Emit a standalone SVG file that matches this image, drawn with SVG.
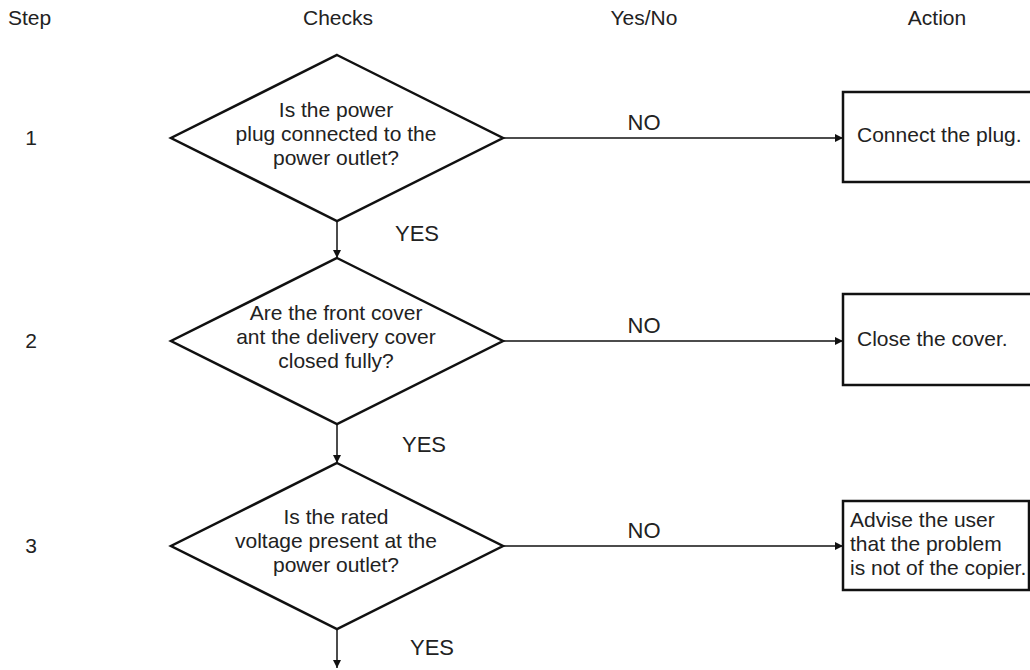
<svg xmlns="http://www.w3.org/2000/svg" width="1030" height="670" viewBox="0 0 1030 670">
<defs>
<style>
text{font-family:"Liberation Sans",Arial,sans-serif;font-size:21px;fill:#222}
.c{text-anchor:middle}
.yn{font-size:22px}
.shape{fill:#fff;stroke:#111;stroke-width:2.5}
.conn{fill:none;stroke:#111;stroke-width:1.5}
</style>
<marker id="ah" viewBox="0 0 10 10" refX="10" refY="5" markerWidth="10" markerHeight="8" markerUnits="userSpaceOnUse" orient="auto">
<path d="M0,0 L10,5 L0,10 Z" fill="#111"/>
</marker>
</defs>
<rect width="1030" height="670" fill="#fff"/>
<g id="headers">
<text x="8" y="25">Step</text>
<text x="338" y="25" class="c">Checks</text>
<text x="644" y="25" class="c">Yes/No</text>
<text x="937" y="25" class="c">Action</text>
</g>
<g id="steps">
<text x="31" y="145" class="c">1</text>
<text x="31" y="348" class="c">2</text>
<text x="31" y="553" class="c">3</text>
</g>
<g id="connectors">
<line class="conn" x1="503" y1="138" x2="843" y2="138" marker-end="url(#ah)"/>
<line class="conn" x1="503" y1="341" x2="843" y2="341" marker-end="url(#ah)"/>
<line class="conn" x1="503" y1="546" x2="843" y2="546" marker-end="url(#ah)"/>
<line class="conn" x1="337" y1="221" x2="337" y2="258" marker-end="url(#ah)"/>
<line class="conn" x1="337" y1="424" x2="337" y2="463" marker-end="url(#ah)"/>
<line class="conn" x1="337" y1="629" x2="337" y2="668" marker-end="url(#ah)"/>
<text x="644" y="130" class="c yn">NO</text>
<text x="644" y="333" class="c yn">NO</text>
<text x="644" y="538" class="c yn">NO</text>
<text x="417" y="241" class="c yn">YES</text>
<text x="424" y="452" class="c yn">YES</text>
<text x="432" y="655" class="c yn">YES</text>
</g>
<g id="check1">
<polygon class="shape" points="337,55 503,138 337,221 171,138"/>
<text x="336" y="117" class="c">Is the power</text>
<text x="336" y="141" class="c">plug connected to the</text>
<text x="336" y="165" class="c">power outlet?</text>
</g>
<g id="check2">
<polygon class="shape" points="337,258 503,341 337,424 171,341"/>
<text x="336" y="320" class="c">Are the front cover</text>
<text x="336" y="344" class="c">ant the delivery cover</text>
<text x="336" y="368" class="c">closed fully?</text>
</g>
<g id="check3">
<polygon class="shape" points="337,463 503,546 337,629 171,546"/>
<text x="336" y="524" class="c">Is the rated</text>
<text x="336" y="548" class="c">voltage present at the</text>
<text x="336" y="572" class="c">power outlet?</text>
</g>
<g id="action1">
<rect class="shape" x="843" y="92" width="200" height="90"/>
<text x="857" y="142">Connect the plug.</text>
</g>
<g id="action2">
<rect class="shape" x="843" y="294" width="200" height="91"/>
<text x="857" y="346">Close the cover.</text>
</g>
<g id="action3">
<rect class="shape" x="843" y="501" width="186" height="89"/>
<text x="850" y="527">Advise the user</text>
<text x="850" y="551">that the problem</text>
<text x="850" y="575">is not of the copier.</text>
</g>
</svg>
